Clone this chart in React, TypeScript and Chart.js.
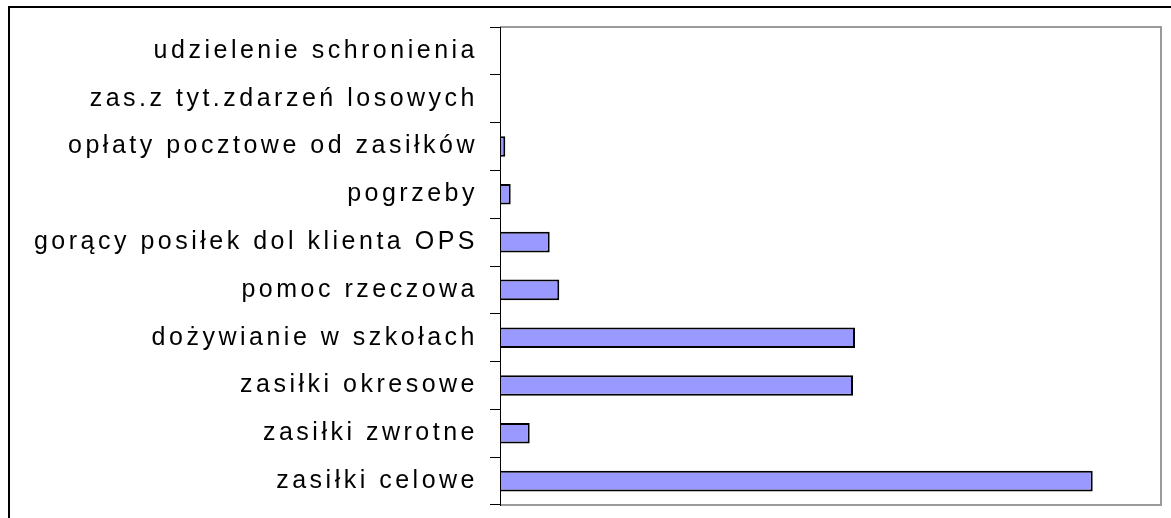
import React, { useEffect, useRef } from "react";
import { Chart, registerables } from "chart.js";

Chart.register(...registerables);

const categories = [
  "udzielenie schronienia",
  "zas.z tyt.zdarzeń losowych",
  "opłaty pocztowe od zasiłków",
  "pogrzeby",
  "gorący posiłek dol klienta OPS",
  "pomoc rzeczowa",
  "dożywianie w szkołach",
  "zasiłki okresowe",
  "zasiłki zwrotne",
  "zasiłki celowe",
];

const values = [0, 0, 1280, 2590, 12030, 14350, 85930, 85450, 7190, 143470];

const xMax = 160000;

const framePlugin = {
  id: "framePlugin",
  beforeDraw(chart: any) {
    chart.ctx.letterSpacing = "3.5px";
  },
  afterDraw(chart: any) {
    const ctx = chart.ctx;
    const a = chart.chartArea;
    ctx.save();
    ctx.letterSpacing = "0px";
    ctx.strokeStyle = "#9a9a9a";
    ctx.lineWidth = 2;
    ctx.beginPath();
    ctx.moveTo(a.left, a.top);
    ctx.lineTo(a.right, a.top);
    ctx.lineTo(a.right, a.bottom);
    ctx.lineTo(a.left, a.bottom);
    ctx.stroke();
    ctx.strokeStyle = "#000";
    ctx.lineWidth = 1;
    ctx.beginPath();
    ctx.moveTo(a.left + 0.5, a.top);
    ctx.lineTo(a.left + 0.5, a.bottom + 1);
    ctx.stroke();
    ctx.fillStyle = "#000";
    ctx.fillRect(8, 6, chart.width - 8, 2);
    ctx.fillRect(8, 6, 2, chart.height - 6);
    ctx.restore();
  },
};

export default function App() {
  const ref = useRef<HTMLCanvasElement | null>(null);
  useEffect(() => {
    if (!ref.current) return;
    const chart = new Chart(ref.current, {
      type: "bar",
      data: {
        labels: categories,
        datasets: [
          {
            data: values,
            backgroundColor: "#9999ff",
            borderColor: "#000000",
            borderWidth: 2,
            barPercentage: 0.43,
            categoryPercentage: 1,
          },
        ],
      },
      options: {
        indexAxis: "y",
        animation: false,
        responsive: true,
        maintainAspectRatio: false,
        layout: { padding: { left: 0, top: 27, right: 10, bottom: 13 } },
        plugins: {
          legend: { display: false },
          tooltip: { enabled: false },
        },
        scales: {
          x: {
            display: false,
            min: 0,
            max: xMax,
          },
          y: {
            afterFit(scale: any) {
              scale.width = 500;
              scale.paddingTop = 0;
              scale.paddingBottom = 0;
            },
            grid: {
              drawOnChartArea: false,
              drawTicks: true,
              tickLength: 10,
              color: "#000",
              offset: true,
            },
            border: { display: true, color: "#000", width: 1 },
            ticks: {
              color: "#000",
              padding: 12,
              font: { family: "Liberation Sans", size: 25 },
            },
          },
        },
      },
      plugins: [framePlugin],
    });
    return () => chart.destroy();
  }, []);
  return (
    <div style={{ position: "absolute", left: 0, top: 0, width: 1171, height: 518 }}>
      <canvas ref={ref} />
    </div>
  );
}
